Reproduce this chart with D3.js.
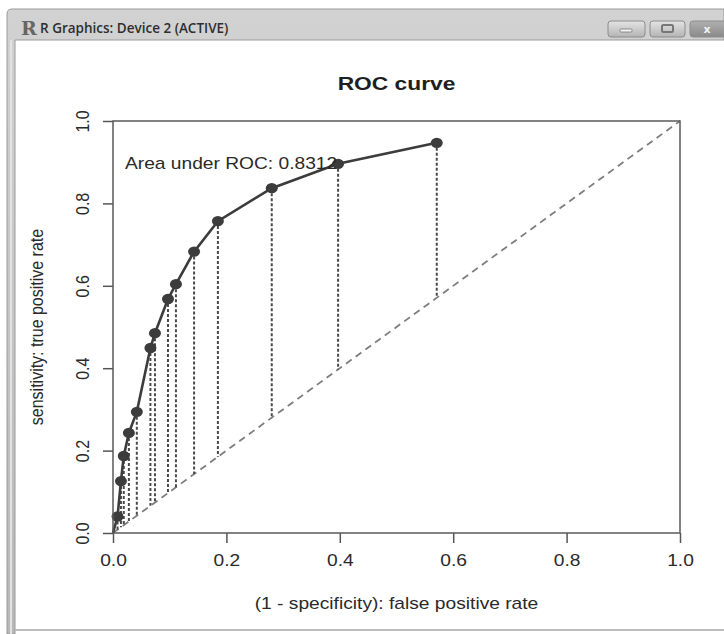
<!DOCTYPE html>
<html>
<head>
<meta charset="utf-8">
<script src="https://cdn.jsdelivr.net/npm/d3@7"></script>
<style>
  body { margin: 0; background: #fff; }
  svg { display: block; }
</style>
</head>
<body>
<div id="chart-area"></div>
<script>
// ROC points
const fpr = [0, 0.008, 0.014, 0.019, 0.028, 0.042, 0.066, 0.074, 0.097, 0.111, 0.143, 0.185, 0.280, 0.397, 0.571]
const tpr = [0, 0.040, 0.126, 0.187, 0.243, 0.294, 0.449, 0.485, 0.568, 0.604, 0.683, 0.757, 0.837, 0.896, 0.947]
const markedFrom = 1   // first point has no marker
const tickValues = [0, 0.2, 0.4, 0.6, 0.8, 1.0]
const aucText = "Area under ROC: 0.8312"

const W = 724, H = 634
const PLOT = { LEFT: 113, RIGHT: 680, TOP: 121, BOTTOM: 533 }
const STRETCH = 1.2   // the screenshot is wider than tall
const FONT = "'Liberation Sans', Arial, sans-serif"

const svg = d3.select("#chart-area").append("svg")
  .attr("width", W)
  .attr("height", H)

const defs = svg.append("defs")
const barGrad = defs.append("linearGradient").attr("id", "bar").attr("x1", 0).attr("x2", 0).attr("y1", 0).attr("y2", 1)
barGrad.append("stop").attr("offset", "0%").attr("stop-color", "#d2d2d2")
barGrad.append("stop").attr("offset", "100%").attr("stop-color", "#b8b8b8")
const btnGrad = defs.append("linearGradient").attr("id", "btn").attr("x1", 0).attr("x2", 0).attr("y1", 0).attr("y2", 1)
btnGrad.append("stop").attr("offset", "0%").attr("stop-color", "#e4e4e4")
btnGrad.append("stop").attr("offset", "100%").attr("stop-color", "#b4b4b4")
const closeGrad = defs.append("linearGradient").attr("id", "close").attr("x1", 0).attr("x2", 0).attr("y1", 0).attr("y2", 1)
closeGrad.append("stop").attr("offset", "0%").attr("stop-color", "#b0b0b0")
closeGrad.append("stop").attr("offset", "100%").attr("stop-color", "#8a8a8a")

// window frame
svg.append("rect").attr("width", W).attr("height", H).attr("fill", "#fff")
svg.append("path")
  .attr("d", `M7,${H} L7,14 Q7,9 12,9 L${W},9 L${W},40 L15,40 L15,${H} Z`)
  .attr("fill", "url(#bar)")
  .attr("stroke", "#9a9a9a")
  .attr("stroke-width", 1)
svg.append("line").attr("x1", 11).attr("x2", 11).attr("y1", 40).attr("y2", H)
  .attr("stroke", "#e2e2e2").attr("stroke-width", 2)
svg.append("line").attr("x1", 15).attr("x2", W).attr("y1", 630).attr("y2", 630)
  .attr("stroke", "#bdbdbd").attr("stroke-width", 2)

svg.append("text")
  .attr("x", 21).attr("y", 35)
  .attr("font-family", "'DejaVu Serif', serif")
  .attr("font-weight", "bold")
  .attr("font-size", 19)
  .attr("fill", "#666")
  .text("R")
svg.append("text")
  .attr("x", 40).attr("y", 33)
  .attr("font-family", "'Open Sans', sans-serif")
  .attr("font-weight", 600)
  .attr("font-size", 13.5)
  .attr("fill", "#2e2e2e")
  .text("R Graphics: Device 2 (ACTIVE)")

const buttons = [
  { x: 608, w: 37, fill: "url(#btn)" },
  { x: 650, w: 35, fill: "url(#btn)" },
  { x: 690, w: 40, fill: "url(#close)" }
]
svg.selectAll(".btn").data(buttons).enter().append("rect")
  .attr("class", "btn")
  .attr("x", d => d.x).attr("y", 21)
  .attr("width", d => d.w).attr("height", 16)
  .attr("rx", 3)
  .attr("fill", d => d.fill)
  .attr("stroke", "#8c8c8c")
svg.append("rect").attr("x", 620).attr("y", 29).attr("width", 12).attr("height", 3).attr("rx", 1)
  .attr("fill", "#f4f4f4").attr("stroke", "#777").attr("stroke-width", 0.8)
svg.append("rect").attr("x", 662).attr("y", 25).attr("width", 11).attr("height", 7).attr("rx", 1.5)
  .attr("fill", "none").attr("stroke", "#777").attr("stroke-width", 2)
svg.append("text").attr("x", 707).attr("y", 33).attr("text-anchor", "middle")
  .attr("font-family", "'DejaVu Sans', sans-serif").attr("font-weight", "bold")
  .attr("font-size", 11).attr("fill", "#f2f2f2").text("x")

// plot
const x = d3.scaleLinear().domain([0, 1]).range([PLOT.LEFT, PLOT.RIGHT])
const y = d3.scaleLinear().domain([0, 1]).range([PLOT.BOTTOM, PLOT.TOP])

const ink = "#3c3c3c"
const textInk = "#2a2a2a"

// diagonal chance line
svg.append("line")
  .attr("x1", x(0)).attr("y1", y(0))
  .attr("x2", x(1)).attr("y2", y(1))
  .attr("stroke", "#7e7e7e")
  .attr("stroke-width", 1.8)
  .attr("stroke-dasharray", "7,5")

const pts = fpr.map((f, i) => ({ f: f, t: tpr[i] }))

// dotted drops to the diagonal
svg.selectAll(".drop").data(pts.slice(markedFrom)).enter().append("line")
  .attr("class", "drop")
  .attr("x1", d => x(d.f)).attr("x2", d => x(d.f))
  .attr("y1", d => y(d.t)).attr("y2", d => y(d.f))
  .attr("stroke", "#4a4a4a")
  .attr("stroke-width", 2)
  .attr("stroke-dasharray", "3,2")

// curve
svg.append("path")
  .datum(pts)
  .attr("fill", "none")
  .attr("stroke", ink)
  .attr("stroke-width", 2.6)
  .attr("d", d3.line().x(d => x(d.f)).y(d => y(d.t)))

svg.selectAll(".pt").data(pts.slice(markedFrom)).enter().append("ellipse")
  .attr("class", "pt")
  .attr("cx", d => x(d.f)).attr("cy", d => y(d.t))
  .attr("rx", 6).attr("ry", 5.2)
  .attr("fill", ink)

// axes
const xAxis = svg.append("g")
  .attr("transform", `translate(0, ${PLOT.BOTTOM})`)
  .call(d3.axisBottom(x).tickValues(tickValues).tickSize(10).tickSizeOuter(0).tickFormat(d3.format(".1f")))
const yAxis = svg.append("g")
  .attr("transform", `translate(${PLOT.LEFT}, 0)`)
  .call(d3.axisLeft(y).tickValues(tickValues).tickSize(10).tickSizeOuter(0).tickFormat(d3.format(".1f")))

;[xAxis, yAxis].forEach(a => {
  a.select(".domain").remove()
  a.selectAll("line").attr("stroke", "#555").attr("stroke-width", 1.5)
  a.selectAll("text")
    .attr("font-family", FONT)
    .attr("font-size", 16)
    .attr("fill", textInk)
})
xAxis.selectAll("text")
  .attr("y", 0).attr("dy", null)
  .attr("text-anchor", "middle")
  .attr("transform", `translate(0, 33) scale(${STRETCH}, 1)`)
yAxis.selectAll("text")
  .attr("x", 0).attr("dy", null)
  .attr("text-anchor", "middle")
  .attr("transform", `translate(-24, 0) scale(${STRETCH}, 1) rotate(-90)`)

// box
svg.append("rect")
  .attr("x", PLOT.LEFT).attr("y", PLOT.TOP)
  .attr("width", PLOT.RIGHT - PLOT.LEFT).attr("height", PLOT.BOTTOM - PLOT.TOP)
  .attr("fill", "none")
  .attr("stroke", "#5a5a5a")
  .attr("stroke-width", 1.5)

// title and labels
svg.append("text")
  .attr("text-anchor", "middle")
  .attr("transform", `translate(${(PLOT.LEFT + PLOT.RIGHT) / 2}, 90) scale(${STRETCH}, 1)`)
  .attr("font-family", FONT)
  .attr("font-weight", "bold")
  .attr("font-size", 19)
  .attr("fill", "#1e1e1e")
  .text("ROC curve")

svg.append("text")
  .attr("text-anchor", "middle")
  .attr("transform", `translate(${(PLOT.LEFT + PLOT.RIGHT) / 2}, 609) scale(${STRETCH}, 1)`)
  .attr("font-family", FONT)
  .attr("font-size", 16)
  .attr("fill", textInk)
  .text("(1 - specificity): false positive rate")

svg.append("text")
  .attr("text-anchor", "middle")
  .attr("transform", `translate(43, ${(PLOT.TOP + PLOT.BOTTOM) / 2}) scale(${STRETCH}, 1) rotate(-90)`)
  .attr("font-family", FONT)
  .attr("font-size", 16)
  .attr("fill", textInk)
  .text("sensitivity: true positive rate")

svg.append("text")
  .attr("transform", `translate(125, 169) scale(${STRETCH}, 1)`)
  .attr("font-family", FONT)
  .attr("font-size", 16)
  .attr("fill", textInk)
  .text(aucText)
</script>
</body>
</html>
